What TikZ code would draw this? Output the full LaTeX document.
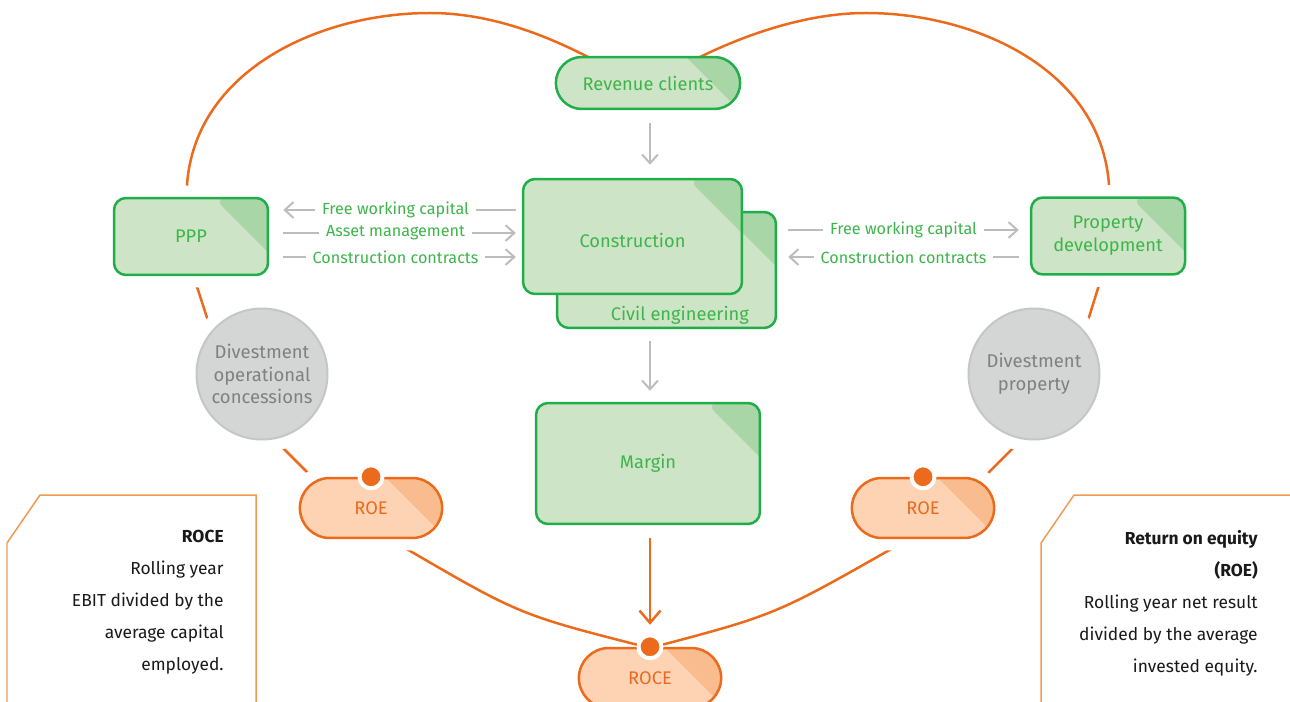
\documentclass[tikz,border=0pt]{standalone}
\usepackage{fontspec}
\setmainfont{Fira Sans}
\usetikzlibrary{calc,shapes.misc,arrows.meta}
\definecolor{sgreen}{HTML}{22AD4B}
\definecolor{stext}{HTML}{3DB54A}
\definecolor{sfill}{HTML}{CEE4C6}
\definecolor{sfold}{HTML}{A9D6A6}
\definecolor{sorange}{HTML}{EC6A1C}
\definecolor{ofill}{HTML}{FDD3B4}
\definecolor{ofold}{HTML}{F8BC8E}
\definecolor{oline}{HTML}{F39A52}
\definecolor{cline}{HTML}{BDBDBD}
\definecolor{cgray}{HTML}{D4D5D5}
\definecolor{cgrayb}{HTML}{C5C6C6}
\definecolor{cgrayt}{HTML}{7F8080}
\tikzset{>={Straight Barb[length=5pt,width=9pt]}}
\tikzset{
  halo/.style={preaction={draw=white,line width=0.5cm}},
  gfont/.style={font=\fontsize{10.4}{13}\selectfont},
  gbox/.style={draw=sgreen,fill=sfill,line width=0.05cm,rounded corners=0.24cm,text=stext,gfont,align=center,
    path picture={\fill[sfold] ($(path picture bounding box.north east)+(-54,0)$) -- ++(90,0) -- ++(0,90) -- cycle;}},
  gpill/.style={rounded rectangle,draw=sgreen,fill=sfill,line width=0.05cm,text=stext,gfont,
    minimum width=3.92cm,minimum height=1.04cm,
    path picture={\fill[sfold] ($(path picture bounding box.north east)+(-54,0)$) -- ++(90,0) -- ++(0,90) -- cycle;}},
  opill/.style={rounded rectangle,draw=sorange,fill=ofill,line width=0.05cm,text=sorange,gfont,
    minimum width=3.08cm,minimum height=1.2cm,
    path picture={\fill[ofold] ($(path picture bounding box.north east)+(-56,0)$) -- ++(90,0) -- ++(0,90) -- cycle;}},
  dcircle/.style={circle,draw=cgrayb,fill=cgray,line width=0.04cm,minimum size=2.62cm,inner sep=0,
    text=cgrayt,align=center,font=\fontsize{10.5}{13}\selectfont,halo},
  dot/.style={circle,fill=sorange,draw=white,line width=0.08cm,minimum size=0.46cm,inner sep=0},
  heart/.style={draw=sorange,line width=0.05cm},
  flow/.style={draw=cline,line width=0.04cm},
  lflow/.style={flow,shorten <=0.28cm,shorten >=0.12cm},
  rflow/.style={flow,shorten <=0.22cm,shorten >=0.22cm},
  lbl/.style={fill=white,text=stext,inner xsep=0.14cm,inner ysep=1pt,font=\fontsize{9.2}{10}\selectfont},
  oarrow/.style={draw=sorange,line width=0.05cm,-{Straight Barb[length=7pt,width=12pt]}},
  nbox/.style={draw=oline,line width=0.03cm},
  note/.style={align=right,inner sep=0,text=black!90,font=\fontsize{9.9}{18.2}\selectfont}
}
\begin{document}
\begin{tikzpicture}[x=0.02cm,y=-0.02cm]
\useasboundingbox (0,0) rectangle (1290,702);
% the heart
\draw[heart] (650,648) .. controls (520,615) .. (405,548) -- (320,485) -- (270,435) -- (211,330) -- (187,256) -- (187,185)
  .. controls (195,70) and (320,13) .. (430,13) .. controls (490,13) and (545,35) .. (588,57);
\draw[heart] (650,648) .. controls (775,615) .. (893,548) -- (976,485) -- (1026,435) -- (1085,330) -- (1108,256) -- (1109,185)
  .. controls (1101,70) and (976,13) .. (866,13) .. controls (806,13) and (745,35) .. (700,57);

\node[gpill] (rev) at (648,83) {Revenue clients};
\node[gbox,minimum width=4.38cm,minimum height=2.32cm] (civil) at (666.5,270) {};
\node[gbox,minimum width=4.38cm,minimum height=2.3cm,text height=12.5pt,text depth=0pt] (cons) at (632.5,236.5) {Construction};
\node[gfont,text=stext,anchor=base east,inner sep=0] (civlbl) at ($(civil.south east)+(-28,-9)$) {Civil engineering};
\node[gbox,halo,minimum width=3.08cm,minimum height=1.54cm] (ppp) at (191,236.5) {PPP};
\node[gbox,halo,minimum width=3.08cm,minimum height=1.54cm] (prop) at (1108,236) {Property\\development};
\node[gbox,minimum width=4.48cm,minimum height=2.42cm] (margin) at (648,463.5) {Margin};
\node[dcircle] (divL) at (262,374) {Divestment\\operational\\concessions};
\node[dcircle] (divR) at (1034,374) {Divestment\\property};
\node[opill,halo] (roeL) at (371,508) {ROE};
\node[opill,halo] (roeR) at (923,508) {ROE};
\node[opill] (roce) at (650,678) {ROCE};
\node[dot] (dotL) at (roeL.north) {};
\node[dot] (dotR) at (roeR.north) {};
\node[dot] (dotC) at (roce.north) {};

% flows
\draw[lflow,<-] (ppp.east |- 0,210) -- (cons.west |- 0,210) node[lbl,midway] {Free working capital};
\draw[lflow,->] (ppp.east |- 0,233) -- (cons.west |- 0,233) node[lbl,midway] {Asset management};
\draw[lflow,->] (ppp.east |- 0,257) -- (cons.west |- 0,257) node[lbl,midway] {Construction contracts};
\draw[rflow,->] (civil.east |- 0,230) -- (prop.west |- 0,230) node[lbl,midway] {Free working capital};
\draw[rflow,<-] (civil.east |- 0,257) -- (prop.west |- 0,257) node[lbl,midway] {Construction contracts};
\draw[flow,->,shorten <=0.26cm,shorten >=0.26cm] (rev.south -| 650,0) -- (cons.north -| 650,0);
\draw[flow,->,shorten <=0.24cm,shorten >=0.22cm] (civil.south -| 650,0) -- (margin.north -| 650,0);
\draw[oarrow,shorten <=0.26cm,shorten >=0.44cm] (margin.south -| 650,0) -- (roce.north);

% notes
\draw[nbox] (7,702) -- (7,543) -- (40,495) -- (256,495) -- (256,702);
\draw[nbox] (1041,702) -- (1041,543) -- (1074,495) -- (1292,495);
\node[note,anchor=north east] (roceNote) at (224,530) {\textbf{ROCE}\\Rolling year\\EBIT divided by the\\average capital\\employed.};
\node[note,anchor=north east] (roeNote) at (1258,530) {\textbf{Return on equity}\\\textbf{(ROE)}\\Rolling year net result\\divided by the average\\invested equity.};
\end{tikzpicture}
\end{document}
